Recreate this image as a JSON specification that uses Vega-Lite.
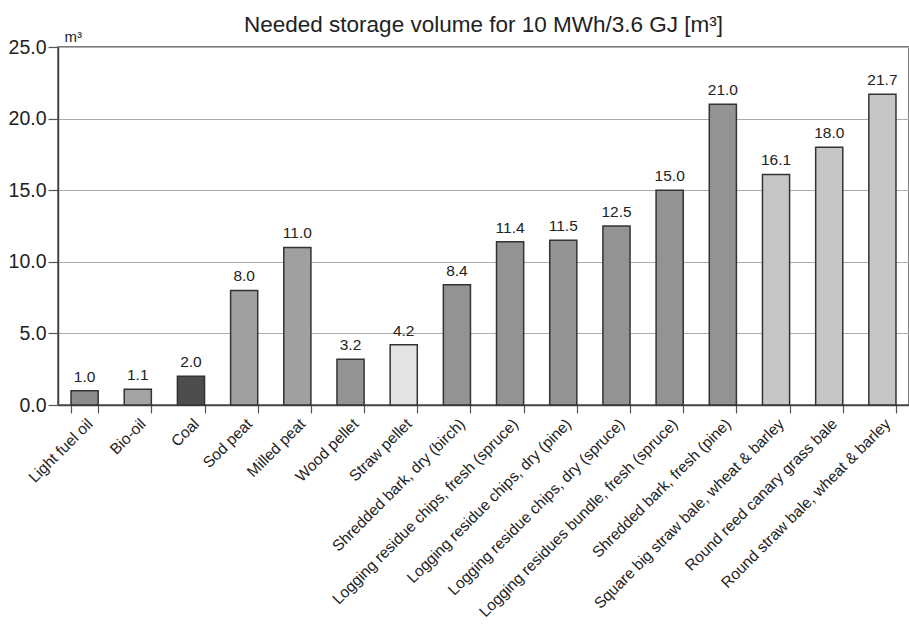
{
  "$schema": "https://vega.github.io/schema/vega-lite/v6.json",
  "autosize": {"type": "none"},
  "width": 851,
  "height": 358,
  "padding": {"left": 58, "top": 47, "right": 0, "bottom": 227},
  "background": "white",
  "title": {
    "text": "Needed storage volume for 10 MWh/3.6 GJ [m³]",
    "anchor": "middle",
    "font": "Liberation Sans",
    "fontSize": 22.5,
    "fontWeight": "normal",
    "color": "#222222",
    "offset": -7
  },
  "config": {
    "view": {"stroke": "#555555", "strokeWidth": 1.5},
    "font": "Liberation Sans"
  },
  "data": {
    "values": [
      {"fuel": "Light fuel oil", "volume": 1.0, "group": "Fuel oil"},
      {"fuel": "Bio-oil", "volume": 1.1, "group": "Bio-oil"},
      {"fuel": "Coal", "volume": 2.0, "group": "Coal"},
      {"fuel": "Sod peat", "volume": 8.0, "group": "Peat"},
      {"fuel": "Milled peat", "volume": 11.0, "group": "Peat"},
      {"fuel": "Wood pellet", "volume": 3.2, "group": "Wood"},
      {"fuel": "Straw pellet", "volume": 4.2, "group": "Straw pellet"},
      {"fuel": "Shredded bark, dry (birch)", "volume": 8.4, "group": "Wood"},
      {"fuel": "Logging residue chips, fresh (spruce)", "volume": 11.4, "group": "Wood"},
      {"fuel": "Logging residue chips, dry (pine)", "volume": 11.5, "group": "Wood"},
      {"fuel": "Logging residue chips, dry (spruce)", "volume": 12.5, "group": "Wood"},
      {"fuel": "Logging residues bundle, fresh (spruce)", "volume": 15.0, "group": "Wood"},
      {"fuel": "Shredded bark, fresh (pine)", "volume": 21.0, "group": "Wood"},
      {"fuel": "Square big straw bale, wheat & barley", "volume": 16.1, "group": "Bale"},
      {"fuel": "Round reed canary grass bale", "volume": 18.0, "group": "Bale"},
      {"fuel": "Round straw bale, wheat & barley", "volume": 21.7, "group": "Bale"}
    ]
  },
  "encoding": {
    "x": {
      "field": "fuel",
      "type": "nominal",
      "sort": null,
      "scale": {"paddingInner": 0.49, "paddingOuter": 0.245},
      "axis": {
        "title": null,
        "labelAngle": -45,
        "labelFontSize": 15.5,
        "labelColor": "#222222",
        "labelPadding": 3,
        "labelLimit": 400,
        "tickBand": "extent",
        "tickSize": 8,
        "tickColor": "#555555",
        "tickWidth": 1.2,
        "domainColor": "#444444",
        "domainWidth": 1.5
      }
    },
    "y": {
      "field": "volume",
      "type": "quantitative",
      "scale": {"domain": [0, 25]},
      "axis": {
        "values": [0, 5, 10, 15, 20, 25],
        "format": ".1f",
        "title": "m³",
        "titleAngle": 0,
        "titleAlign": "left",
        "titleBaseline": "bottom",
        "titleX": 6,
        "titleY": -3,
        "titleFontSize": 15,
        "titleFontWeight": "normal",
        "titleColor": "#222222",
        "labelFontSize": 19.5,
        "labelColor": "#222222",
        "labelPadding": 2,
        "tickSize": 10,
        "tickColor": "#555555",
        "tickWidth": 1.2,
        "domainColor": "#444444",
        "domainWidth": 1.5,
        "grid": true,
        "gridColor": "#acacac",
        "gridWidth": 1.2
      }
    }
  },
  "layer": [
    {
      "mark": {"type": "bar", "stroke": "#333333", "strokeWidth": 1.5},
      "encoding": {
        "color": {
          "field": "group",
          "type": "nominal",
          "legend": null,
          "scale": {
            "domain": ["Fuel oil", "Bio-oil", "Coal", "Peat", "Wood", "Straw pellet", "Bale"],
            "range": ["#8c8c8c", "#a3a3a3", "#4d4d4d", "#a0a0a0", "#939393", "#e3e3e3", "#c6c6c6"]
          }
        }
      }
    },
    {
      "mark": {"type": "text", "baseline": "bottom", "dy": -6, "fontSize": 15.5, "color": "#222222"},
      "encoding": {
        "text": {"field": "volume", "type": "quantitative", "format": ".1f"}
      }
    }
  ]
}
